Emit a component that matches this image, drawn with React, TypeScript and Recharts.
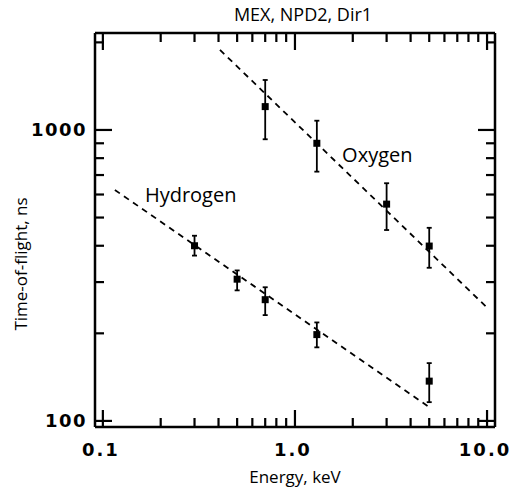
import { ScatterChart, Scatter, XAxis, YAxis, ErrorBar, ReferenceDot } from "recharts";

// measured points, energy in keV, time-of-flight in ns
const hydrogenEnergy = [0.3, 0.5, 0.7, 1.3, 5.0];
const hydrogenTof = [400, 307, 261, 198, 137];
const hydrogenLow = [370, 281, 231, 179, 116];
const hydrogenHigh = [433, 329, 288, 218, 158];

const oxygenEnergy = [0.7, 1.3, 3.0, 5.0];
const oxygenTof = [1203, 900, 556, 399];
const oxygenLow = [929, 719, 453, 336];
const oxygenHigh = [1485, 1076, 656, 461];

// dashed fit lines (end points)
const oxygenFitEnergy = [0.407, 9.88];
const oxygenFitTof = [1884, 247];
const hydrogenFitEnergy = [0.1155, 5.05];
const hydrogenFitTof = [622, 111];

const xTicks = [0.1, 0.2, 0.3, 0.4, 0.5, 0.6, 0.7, 0.8, 0.9, 1, 2, 3, 4, 5, 6, 7, 8, 9, 10];
const xMajor = [0.1, 1, 10];
const xMajorLabels = ["0.1", "1.0", "10.0"];
const yTicks = [100, 200, 300, 400, 500, 600, 700, 800, 900, 1000, 2000];
const yMajor = [100, 1000];
const yMajorLabels = ["100", "1000"];

const X_DOMAIN = [0.091, 11];
const Y_DOMAIN = [95.3, 2154];

const FONT = "'Open Sans', sans-serif";
const TICK_FONT = "'DejaVu Sans', sans-serif";

const withErr = (e: number[], t: number[], lo: number[], hi: number[]) =>
  e.map((x, i) => ({ x, y: t[i], err: [t[i] - lo[i], hi[i] - t[i]] }));

const hydrogen = withErr(hydrogenEnergy, hydrogenTof, hydrogenLow, hydrogenHigh);
const oxygen = withErr(oxygenEnergy, oxygenTof, oxygenLow, oxygenHigh);
const oxygenFit = oxygenFitEnergy.map((x, i) => ({ x, y: oxygenFitTof[i] }));
const hydrogenFit = hydrogenFitEnergy.map((x, i) => ({ x, y: hydrogenFitTof[i] }));

// inward tick marks for all four sides of the frame (tickMargin of 2 is undone here)
// eslint-disable-next-line @typescript-eslint/no-explicit-any
function FrameTick(props: any) {
  const { payload, side } = props;
  let { x, y } = props;
  const v = payload.value;
  const isX = side === "bottom" || side === "top";
  const idx = (isX ? xMajor : yMajor).indexOf(v);
  const len = idx >= 0 ? 17 : 9;
  if (side === "bottom") y -= 2;
  if (side === "top") y += 2;
  if (side === "left") x += 2;
  if (side === "right") x -= 2;
  let x2 = x, y2 = y;
  if (side === "bottom") y2 = y - len;
  if (side === "top") y2 = y + len;
  if (side === "left") x2 = x + len;
  if (side === "right") x2 = x - len;
  let label = null;
  if (idx >= 0 && side === "bottom") {
    label = (
      <text x={x - 2} y={y + 29} textAnchor="middle" fontSize={18} fontWeight="bold" letterSpacing={2} fontFamily={TICK_FONT} fill="#000">
        {xMajorLabels[idx]}
      </text>
    );
  }
  if (idx >= 0 && side === "left") {
    label = (
      <text x={x - 8} y={y + 6.5} textAnchor="end" fontSize={18} fontWeight="bold" letterSpacing={1.5} fontFamily={TICK_FONT} fill="#000">
        {yMajorLabels[idx]}
      </text>
    );
  }
  return (
    <g>
      <line x1={x} y1={y} x2={x2} y2={y2} stroke="#000" strokeWidth={2.2} />
      {label}
    </g>
  );
}

// eslint-disable-next-line @typescript-eslint/no-explicit-any
const square = (p: any) => <rect x={p.cx - 3.5} y={p.cy - 3.5} width={7} height={7} fill="#000" />;
const noShape = () => <g />;

const dashed = { stroke: "#000", strokeWidth: 1.8, strokeDasharray: "6 5" };
const axisLine = { stroke: "#000", strokeWidth: 2.5 };

export default function App() {
  return (
    <div style={{ position: "absolute", left: 0, top: 0, background: "#fff" }}>
      <ScatterChart width={512} height={492} margin={{ top: 32, right: 16, bottom: 0, left: 0 }}>
        <XAxis
          type="number"
          dataKey="x"
          scale="log"
          domain={X_DOMAIN}
          allowDataOverflow
          ticks={xTicks}
          interval={0}
          height={65}
          tickSize={0}
          tickLine={false}
          axisLine={axisLine}
          tick={(p) => <FrameTick {...p} side="bottom" />}
          label={{ value: "Energy, keV", position: "center", dy: 17, fontSize: 17, fontFamily: FONT, fill: "#000" }}
        />
        <XAxis
          xAxisId="top"
          orientation="top"
          type="number"
          dataKey="x"
          scale="log"
          domain={X_DOMAIN}
          allowDataOverflow
          ticks={xTicks}
          interval={0}
          height={1}
          tickSize={0}
          tickLine={false}
          axisLine={axisLine}
          tick={(p) => <FrameTick {...p} side="top" />}
          label={{ value: "MEX, NPD2, Dir1", position: "top", offset: 11, dx: 8, fontSize: 18, fontFamily: FONT, fill: "#000" }}
        />
        <YAxis
          type="number"
          dataKey="y"
          scale="log"
          domain={Y_DOMAIN}
          allowDataOverflow
          ticks={yTicks}
          interval={0}
          width={95}
          tickSize={0}
          tickLine={false}
          axisLine={axisLine}
          tick={(p) => <FrameTick {...p} side="left" />}
          label={{ value: "Time-of-flight, ns", angle: -90, position: "center", dx: -27, dy: 34, fontSize: 17, fontFamily: FONT, fill: "#000" }}
        />
        <YAxis
          yAxisId="right"
          orientation="right"
          type="number"
          dataKey="y"
          scale="log"
          domain={Y_DOMAIN}
          allowDataOverflow
          ticks={yTicks}
          interval={0}
          width={1}
          tickSize={0}
          tickLine={false}
          axisLine={axisLine}
          tick={(p) => <FrameTick {...p} side="right" />}
        />

        {/* keeps the mirrored top/right axes tied to data */}
        <Scatter data={oxygen} xAxisId="top" yAxisId="right" shape={noShape} legendType="none" isAnimationActive={false} />

        <Scatter data={oxygenFit} line={dashed} shape={noShape} isAnimationActive={false} />
        <Scatter data={hydrogenFit} line={dashed} shape={noShape} isAnimationActive={false} />

        <Scatter data={oxygen} shape={square} isAnimationActive={false}>
          <ErrorBar dataKey="err" direction="y" width={2.5} stroke="#000" strokeWidth={1.8} />
        </Scatter>
        <Scatter data={hydrogen} shape={square} isAnimationActive={false}>
          <ErrorBar dataKey="err" direction="y" width={2.5} stroke="#000" strokeWidth={1.8} />
        </Scatter>

        <ReferenceDot x={1.76} y={821} r={0} fill="none" stroke="none"
          label={{ value: "Oxygen", position: "right", offset: 0, fontSize: 20, fontFamily: FONT, fill: "#000" }} />
        <ReferenceDot x={0.1655} y={598} r={0} fill="none" stroke="none"
          label={{ value: "Hydrogen", position: "right", offset: 0, fontSize: 20, fontFamily: FONT, fill: "#000" }} />
      </ScatterChart>
    </div>
  );
}
